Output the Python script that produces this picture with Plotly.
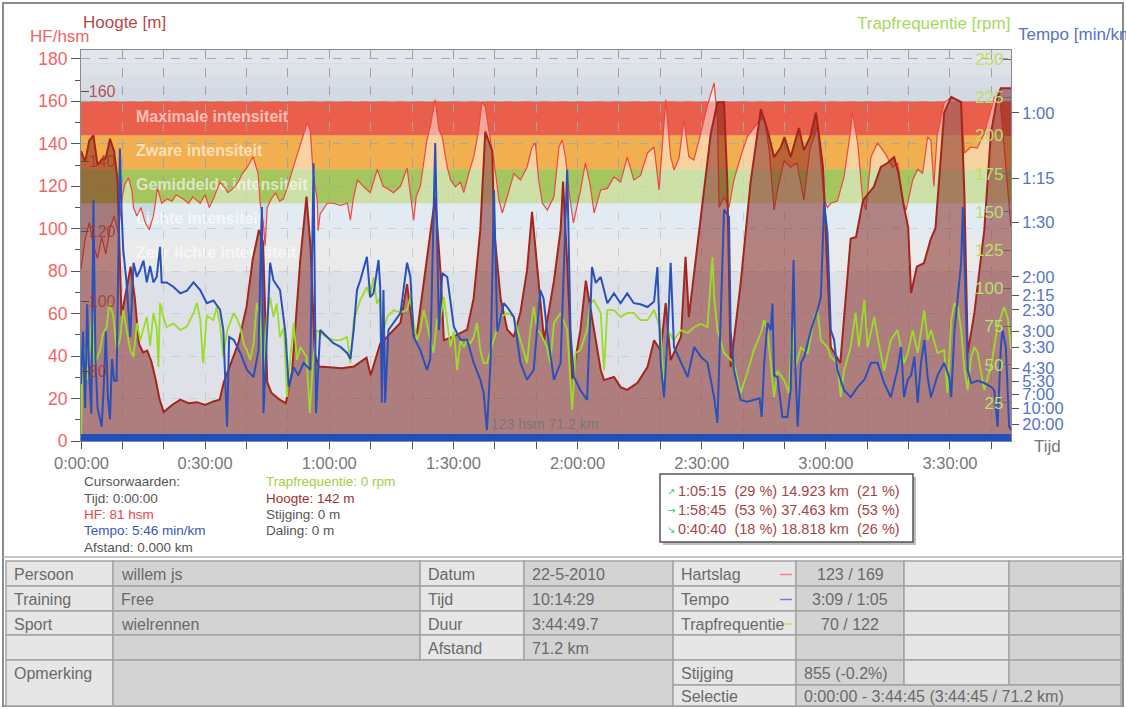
import plotly.graph_objects as go

# ---------------- data (time in minutes) ----------------
hf_points = [(0,81),(1,95),(2,103),(3,92),(4,86),(5,96),(6,88),(7,100),(8,106),(9,98),(10,115),(10.6,121),(11.5,124),(12.3,118),(12.7,110),(13.5,106),(14.5,110),(15.5,103),(16.5,99.5),(17.5,106),(18.5,119),(19.5,112),(20.8,114),(22,113),(23,116),(24.7,114),(26,112),(27,115),(28.8,112),(30,116),(31,110),(32,114),(33.6,122),(34.5,120),(35.5,117),(36.8,119),(38,122),(39,126),(40.2,129),(41.6,134),(42.8,126),(43.3,112),(44,104),(44.5,92),(45,110),(46,114),(47,117),(48,113),(48.9,114),(49.8,119),(51.3,129),(53,140),(54.7,150),(55.4,146.5),(56.1,126),(57.1,113.6),(57.3,99),(57.8,107),(59.5,112),(61,112),(62.7,111),(64.4,112),(65.1,104),(65.8,114),(66.8,123),(68.2,120),(69.9,117),(71.6,128),(72.3,124),(73,120),(74,119),(75.5,117),(77.2,120),(78.8,128.6),(79.5,118),(80.4,104),(81,115),(82,120),(83.6,141.8),(84.4,148),(85.6,160.7),(86.5,146.5),(87.3,143.3),(88.5,129),(89.3,123),(90.5,119.7),(91.7,122),(92.5,117),(93.7,126),(94.9,133.8),(96.1,146.5),(96.9,159.7),(97.7,157.4),(99,141.8),(100.2,126),(101,113.6),(101.8,107.4),(103,115),(104.6,126),(106.2,123),(107.8,129),(109,138.5),(109.8,140.4),(110.6,123),(111.5,112),(112.7,108.8),(114.3,115),(115.5,138.5),(116.3,141.8),(117.1,133.8),(117.9,118),(119,102.7),(120.7,118),(121.9,131),(123.1,120),(124,107.4),(125.6,118.3),(127.2,119),(128.8,124.4),(130.4,122),(132,133.8),(133.6,123),(135.2,125),(136.9,135.7),(138.5,138.5),(139.7,118.3),(140.1,128),(141.3,160.7),(142.5,133.8),(143.3,127.7),(144.5,133),(145.7,151.3),(146.9,134),(148.1,132.4),(149.8,145),(151.3,157.4),(153,168.7),(153.8,151.3),(154.2,110),(155.4,115),(156.6,110),(157.8,123),(159.4,133.8),(161,143.3),(163.5,149.8),(165.1,152.7),(166.3,137),(167.5,108.8),(168.3,118),(169.9,132),(171.5,129),(173,131),(174.7,113.6),(176.2,138),(178,148),(179.6,113.6),(180.4,110),(181.2,112),(182.8,113),(184.4,124.4),(186,146.5),(186.4,155),(187.7,140.4),(188.9,113.6),(189.7,108.8),(190.9,133.8),(192.5,140.4),(194.5,135),(196.1,129),(197.4,131),(198.6,113.6),(199.4,108.8),(201,123),(202.2,128),(203.4,126),(204.6,143.3),(205.4,141.8),(206.1,120),(206.9,144),(208.6,159.3),(210.3,162),(212.6,160),(213.5,135.7),(215,138.5),(216.6,138),(218.3,145),(219.9,156),(220.7,162),(222,163),(223,140),(224,115),(224.75,101)]

elev_points = [(0,143),(1,140),(2,146),(3,147.5),(4,139),(5,140.5),(6,141),(7,146.5),(8,143),(8.8,135),(9.8,96),(11,104),(12,110),(13,101),(14,88),(15,85.5),(16,86),(17,83),(18,78),(19,72),(20,68.5),(21,69.5),(22,70.5),(24,72),(26,71),(28,71.3),(30,70.5),(32,71.5),(33.5,72),(34.5,77),(36,81.5),(38,88),(40,98.5),(41.5,112),(43,120.5),(44,117),(45,77),(46,74),(48,72),(49.5,71),(51,80),(52,97),(53,112),(54.5,130),(55.5,115),(56.5,85),(57.5,81.5),(60,81.3),(63,81),(66,81.5),(69,84),(70,79),(72.3,88),(74,90),(77.2,94),(78.8,105),(80.4,90),(81.2,91),(84.4,120.5),(85.6,130),(86.9,108),(87.7,89),(90,90),(93.3,92),(94.9,101),(95.7,111),(96.5,120.5),(97.7,148.6),(99.4,143),(99.8,121),(101.4,101),(103,92),(104.6,90),(106.2,97),(107.8,109),(109,125.7),(110.3,110),(111.9,89),(114.3,106),(115.9,120.5),(116.5,134.3),(117.5,111),(118.7,78),(120.7,92),(122,106),(124,92),(125.6,80.5),(126.4,77.6),(128.8,78.5),(130.4,75.6),(132,74.8),(134.5,76.8),(136.9,81.3),(138.5,89),(140.1,86),(141.3,99.6),(142.5,83.3),(145,90),(146.1,112.8),(146.9,95.6),(149.8,124),(152.2,148),(153.8,157),(155.4,157),(156.2,134),(157,81.3),(159.4,105),(161.8,134),(164.3,155),(165.9,149),(167.5,141.3),(169.1,144),(170,147),(171.5,141.3),(173.5,149.6),(174.7,143.3),(176.2,147),(177.6,154),(178.3,148),(179.3,138.5),(180,119.6),(181.2,87),(183.5,82.5),(186,118),(187.3,118.5),(189,129),(191.6,132.8),(193.3,138.5),(194.9,139.6),(196.5,141.3),(197.5,137),(198.9,127),(199.9,121.3),(200.6,102.5),(202,110),(203.7,111),(205.4,118),(206.5,121),(208.6,154),(210.3,158.5),(212.7,157),(213.5,130),(214.3,85.3),(215.9,96.8),(218.3,120.5),(219.9,148.2),(221.5,158.5),(222.3,161),(224.75,161)]

speed_points = [(0,10.4),(0.5,20),(1,6),(1.5,25),(2,12),(2.5,5),(3,44),(3.5,15),(4,6),(5,2.6),(5.5,10),(6,20),(6.5,8),(7,4),(7.5,15),(8,11),(8.6,11),(9.4,53.5),(9.8,42),(10.2,35),(11,29),(11.9,19),(12.7,32.6),(13.5,30),(14.3,31.3),(15.1,33),(15.9,29),(16.7,32),(17.5,29),(18.3,30),(19.1,35.5),(19.5,29),(20.7,29),(22.3,28.2),(24,27),(25.6,27.5),(27.2,29),(28.8,27.6),(30.4,25.2),(32,25.7),(33.6,24),(34.4,20.3),(35.3,2.6),(35.8,19),(36.9,18.5),(38.5,16.1),(40.1,13),(41.7,11.7),(42.9,16.6),(43.7,42.8),(44.1,5.1),(44.9,20.3),(45.7,32.6),(46.5,29.4),(48.1,27.6),(49.4,19.8),(50.2,9.9),(51.4,13.5),(52.5,12),(53.8,14.3),(55.4,13),(56.2,50.8),(56.8,5.1),(57.8,20.3),(59.4,19),(61,17.9),(62.7,17.2),(64.3,16.1),(65.1,15),(65.9,20.3),(66.7,27.6),(67.5,29.4),(69.1,33.7),(69.9,26.3),(70.7,27),(71.9,33.1),(72.3,28.2),(72.7,7),(73.1,27.6),(73.5,7),(74.3,20.3),(75.6,21.6),(77.2,23.4),(78.8,32.6),(79.6,30),(80.4,19),(82,16.6),(83.6,13),(84.4,15),(85.6,54.5),(86.5,20.3),(87.3,30.7),(88.5,30),(90.1,20.9),(91.7,18.5),(93.3,18.5),(94.9,14.3),(96.5,11.2),(97.3,8.8),(98.1,2),(99,15),(99.8,45.9),(100.6,20),(102.2,25.2),(103,24.5),(104.6,22.7),(106.2,14.3),(107.8,11.2),(109.4,13),(111,27.6),(111.8,26),(112.6,20.3),(114.3,11.2),(115.9,14.3),(117.5,49.6),(118.3,20),(119.1,11.7),(120.7,9.3),(122.3,7.5),(123.5,31.8),(124.4,28.9),(125.6,30),(127.2,25.2),(128.8,27),(130.4,25.2),(132,27),(133.6,25.2),(135.2,25),(136.9,24.5),(138.5,25.5),(139.3,31.8),(140.1,14.3),(140.9,8),(141.8,20),(142.5,32.6),(143.3,17.2),(145,14.3),(146.6,11.7),(148.2,17.2),(149.8,15.4),(151.4,14.3),(153,8),(153.8,3.3),(155.4,42.3),(156.6,41),(157,20),(157.8,13),(159.4,7.5),(161,7.2),(162.6,7.5),(164,7.8),(164.5,4.4),(165.1,14.3),(165.9,21.6),(166.7,20.3),(167.1,25.2),(167.5,12),(168.3,11.7),(169.5,4.4),(170.7,4.4),(171.5,9.3),(172.2,33.1),(172.6,14.3),(173.2,2.6),(174,14.3),(174.8,15.4),(176.4,20.3),(178,24),(178.8,26.3),(179.6,43.5),(180.4,38),(181.2,20.3),(182,18.5),(182.8,13),(184.4,9.3),(186,8),(187.7,9.9),(189.3,11.2),(190.9,14.3),(192.5,14.3),(194.1,10.6),(195.7,8),(197.3,13),(198.2,17.2),(198.9,8),(199.8,11.2),(200.6,12),(201.4,15.4),(202.2,7),(203,14.3),(203.8,18.5),(204.6,11.7),(205.4,8),(207,12),(208.6,14.3),(209.8,11.7),(210.3,8),(211.1,20.3),(211.9,26.3),(212.7,32.6),(213.1,42.8),(213.9,20.3),(214.3,13),(215.1,10.6),(216.7,11),(218.3,10.6),(219.9,9.9),(220.7,9.3),(221.5,2.6),(222.3,17.2),(222.7,20.3),(223.5,17.2),(224.3,2.6),(224.75,2)]

cad_points = [(0,0),(0.3,45),(1,60),(1.5,40),(2,55),(2.7,84),(3.3,50),(4.6,59.5),(5.3,70),(6.2,74.6),(6.8,90),(7.8,82),(8.6,60),(9.4,66),(10.2,85.7),(11,72.6),(11.9,59.5),(12.7,55),(13.5,77.2),(14.3,66),(15.1,74),(15.9,81.2),(16.7,62),(17.5,83.8),(18.3,74),(18.7,48.4),(19.1,90.3),(19.9,81.2),(20.7,74.6),(22.3,77),(24,72.6),(25.6,75),(27.2,83.8),(28,90.3),(28.8,80),(29.5,51),(30.4,82),(32,79.1),(32.8,87.7),(33.6,76),(34.4,55),(35.3,72),(36,77.2),(36.9,83.8),(37.7,80),(38.5,74.6),(39.3,64),(40.1,59.5),(40.9,53),(41.7,64),(42.5,90.3),(43.3,81),(44.1,38),(44.9,81),(45.7,94.2),(46.5,81.2),(47.3,90),(48.1,68),(49,74),(49.8,28.8),(50.6,55),(51.4,77.2),(52.2,53),(53,61.5),(54.5,55),(55.3,18.3),(56,50),(57,72.6),(57.8,70.7),(59.4,68),(61,66),(62.7,66),(64.3,68),(65.1,51),(65.9,79.1),(67.5,92.3),(69.1,100.8),(69.9,94),(70.7,107.3),(71.5,90),(72.3,94.2),(72.7,68),(74,81.2),(75.6,85.7),(77.2,84),(78.8,85.7),(79.6,94.2),(80.4,77.2),(81.2,66),(82,72.6),(82.8,85.7),(83.6,77),(84.4,66),(85.2,57.6),(86,79),(86.9,81.2),(87.7,94.2),(88.5,79.1),(89.3,61.5),(90.1,72),(90.9,46.4),(91.7,66),(92.5,61.5),(93.3,66),(94.1,64),(94.9,68),(95.7,77.2),(96.5,59.5),(97.3,51),(98.1,51),(99.8,66),(101.4,81.2),(103,83.8),(104.6,81.2),(106.2,66),(107.8,51),(108.6,72.6),(109.4,87.7),(110.3,72.6),(111,70.7),(112.6,61.5),(113.4,51),(114.3,77.2),(115.9,83.8),(117.5,72.6),(118.7,20.3),(119.5,57.6),(120.7,59.5),(122.3,72.6),(123.1,90.3),(123.9,92.3),(125.6,83.8),(126.4,46.4),(127.2,85.7),(128.8,85.7),(130.4,81.2),(132,83.8),(133.6,83.8),(135.2,79.1),(136.9,79.1),(138.5,85.7),(140.1,72.6),(140.9,33.3),(141.8,72.6),(143.3,66),(145,72.6),(146.6,70.7),(148.2,74.6),(149.8,76.6),(151.4,74.6),(152.6,120.4),(153,94.2),(153.8,72.6),(155.4,57.6),(157.8,51),(159.4,31.4),(161,44.5),(162.6,59.5),(164.3,70.7),(165.1,79.1),(165.9,72.6),(166.7,51),(167.5,28.8),(168.3,46),(169.9,39.9),(171.1,31.4),(171.9,79.1),(172.6,48),(174,61.5),(175.6,57),(177.2,81.2),(178,85.7),(178.8,66),(180.4,61.5),(181.2,55),(182.8,51),(183.6,28.8),(184.4,46),(186,61.5),(187.2,83.8),(188,61.5),(189.3,92.3),(190.1,61.5),(191.7,81.2),(192.5,68),(194.1,46),(195.7,66),(197.3,72.6),(198.9,51),(199.8,57.6),(201,72.6),(202.2,57.6),(203.8,85.7),(204.6,66),(205.4,72.6),(207,57.6),(208.6,59.5),(209.4,31.4),(210.3,79.1),(211.1,90.3),(211.9,88),(212.7,72.6),(213.5,46.4),(214.3,33.3),(215.1,55),(215.9,61.5),(216.7,57.6),(218.3,33.3),(220,50),(221.5,75),(223.1,87.7),(224,80),(224.75,60)]

time_ticks = [0, 30, 60, 90, 120, 150, 180, 210]
time_labels = ["0:00:00", "0:30:00", "1:00:00", "1:30:00", "2:00:00", "2:30:00", "3:00:00", "3:30:00"]
tempo_labels = ["1:00", "1:15", "1:30", "2:00", "2:15", "2:30", "3:00", "3:30", "4:30", "5:30", "7:00", "10:00", "20:00"]
cad_ticks = [25, 50, 75, 100, 125, 150, 175, 200, 225, 250]
elev_ticks = [80, 100, 120, 140, 160]

zone_edges = [80, 96, 112, 128, 144, 160]
zone_names = ["Zeer lichte intensiteit", "Lichte intensiteit", "Gemiddelde intensiteit", "Zware intensiteit", "Maximale intensiteit"]
zone_colors = ["#D9D9D9", "#C8DBE5", "#A4C65C", "#F2AF50", "#EA5F4B"]

T_END = 224.75

# ---------------- geometry helpers (pixel -> paper) ----------------
W, H = 1126, 709
PL, PR, PT, PB = 81, 1011, 50, 441
def fx(x): return (x - PL) / (PR - PL)
def fy(y): return (PB - y) / (PB - PT)

FONT = "Liberation Sans, Arial, sans-serif"

def split(pts):
    return [p[0] for p in pts], [p[1] for p in pts]

hf_t, hf_v = split(hf_points)
el_t, el_v = split(elev_points)
sp_t, sp_v = split(speed_points)
cd_t, cd_v = split(cad_points)

fig = go.Figure()

# zone labels (drawn beneath the series)
fig.add_trace(go.Scatter(
    x=[13.3] * 5, y=[(zone_edges[i] + zone_edges[i + 1]) / 2 for i in range(5)],
    text=zone_names, mode="text", textposition="middle right",
    textfont=dict(family=FONT, size=16, color="rgba(255,255,255,0.62)", weight="bold"),
    hoverinfo="skip", yaxis="y"))

# HF area (lightening overlay)
fig.add_trace(go.Scatter(x=hf_t, y=hf_v, mode="lines", line=dict(width=0),
                         fill="tozeroy", fillcolor="rgba(255,255,255,0.45)", yaxis="y", hoverinfo="skip"))
# elevation
fig.add_trace(go.Scatter(x=el_t, y=el_v, mode="lines", line=dict(color="#A3261C", width=2),
                         fill="tozeroy", fillcolor="rgba(125,28,22,0.5)", yaxis="y2"))
# speed
fig.add_trace(go.Scatter(x=sp_t, y=sp_v, mode="lines", line=dict(color="#2B50BA", width=2), yaxis="y4"))
# cadence
fig.add_trace(go.Scatter(x=cd_t, y=cd_v, mode="lines", line=dict(color="#9CDC28", width=1.8), yaxis="y3"))
# HF line
fig.add_trace(go.Scatter(x=hf_t, y=hf_v, mode="lines", line=dict(color="#EC4840", width=1.2), yaxis="y"))

shapes = []
# top gradient above 160
grad = [(160, 166, "#D3D9E2"), (166, 172, "#D8DDE5"), (172, 178, "#DDE1E8"), (178, 185, "#E2E5EB")]
for y0, y1, c in grad:
    shapes.append(dict(type="rect", xref="paper", yref="y", x0=0, x1=1, y0=y0, y1=y1,
                       fillcolor=c, line=dict(width=0), layer="below"))
for i in range(5):
    shapes.append(dict(type="rect", xref="paper", yref="y", x0=0, x1=1,
                       y0=zone_edges[i], y1=zone_edges[i + 1],
                       fillcolor=zone_colors[i], line=dict(width=0), layer="below"))
# selection bar
shapes.append(dict(type="rect", xref="x", yref="paper", x0=0, x1=T_END, y0=0, y1=7 / 391,
                   fillcolor="#2050C0", line=dict(width=0), layer="above"))

annotations = []
def ann(text, x, y, color, size, anchor="left", yanchor="middle", family=FONT):
    annotations.append(dict(text=text, x=fx(x), y=fy(y), xref="paper", yref="paper",
                            xanchor=anchor, yanchor=yanchor, showarrow=False,
                            font=dict(family=family, size=size, color=color)))

# axis titles
ann("HF/hsm", 28, 36, "#EE6666", 17)
ann("Hoogte [m]", 81, 22, "#B54848", 17)
ann("Trapfrequentie [rpm]", 855, 23, "#A8D860", 17)
ann("Tempo [min/km]", 1016, 35, "#5574C4", 17)
ann("Tijd", 1032, 446, "#777777", 17)
ann("123 hsm 71.2 km", 489, 424, "#777777", 14)
# first time label (plotly hides it next to the inside elevation labels)
ann(time_labels[0], 81, 463, "#777777", 16.5, anchor="center")

# cursor values
ann("Cursorwaarden:", 82, 482, "#555555", 13.5)
ann("Tijd: 0:00:00", 82, 498, "#555555", 13.5)
ann("HF: 81 hsm", 82, 514, "#E84848", 13.5)
ann("Tempo: 5:46 min/km", 82, 530, "#3858B8", 13.5)
ann("Afstand: 0.000 km", 82, 547, "#555555", 13.5)
ann("Trapfrequentie: 0 rpm", 264, 482, "#A0D040", 13.5)
ann("Hoogte: 142 m", 264, 498, "#A03030", 13.5)
ann("Stijging: 0 m", 264, 514, "#555555", 13.5)
ann("Daling: 0 m", 264, 530, "#555555", 13.5)

# stats box
shapes.append(dict(type="rect", xref="paper", yref="paper", x0=fx(663), x1=fx(916), y0=fy(545), y1=fy(477),
                   fillcolor="#BDBDBD", line=dict(width=0), layer="above"))
shapes.append(dict(type="rect", xref="paper", yref="paper", x0=fx(660), x1=fx(913), y0=fy(542), y1=fy(474),
                   fillcolor="white", line=dict(color="#555555", width=1.5), layer="above"))
nb = "\u00a0"
stats = [("\u2197", "1:05:15" + nb * 2 + "(29 %) 14.923 km" + nb * 2 + "(21 %)", 491),
         ("\u2192", "1:58:45" + nb * 2 + "(53 %) 37.463 km" + nb * 2 + "(53 %)", 510),
         ("\u2198", "0:40:40" + nb * 2 + "(18 %) 18.818 km" + nb * 2 + "(26 %)", 529)]
for arrow, txt, yy in stats:
    ann(arrow, 665, yy, "#33CC77", 10, family="DejaVu Sans")
    ann(txt, 676, yy, "#A84444", 14.5)

# outer frame and separator
shapes.append(dict(type="rect", xref="paper", yref="paper", x0=fx(3), x1=fx(1123), y0=fy(706), y1=fy(3),
                   fillcolor="rgba(0,0,0,0)", line=dict(color="#8C8C8C", width=2), layer="above"))
shapes.append(dict(type="line", xref="paper", yref="paper", x0=fx(3), x1=fx(1123), y0=fy(557), y1=fy(557),
                   line=dict(color="#B4B4B4", width=1.5), layer="above"))

# ---------------- info table ----------------
R = [561, 586, 611, 635, 660, 685, 706]
C = [6, 113, 420, 524, 673, 796, 904, 1009, 1121]
LIGHT, DARK, BORDER = "#E6E6E6", "#D3D3D3", "#A4A4A4"
cells = []
for i in range(4):
    for j in range(8):
        cells.append((C[j], C[j + 1], R[i], R[i + 1], LIGHT if j % 2 == 0 else DARK))
cells += [(C[0], C[1], R[4], R[6], LIGHT), (C[1], C[4], R[4], R[6], DARK),
          (C[4], C[5], R[4], R[5], LIGHT), (C[5], C[6], R[4], R[5], DARK),
          (C[6], C[7], R[4], R[5], LIGHT), (C[7], C[8], R[4], R[5], DARK),
          (C[4], C[5], R[5], R[6], LIGHT), (C[5], C[8], R[5], R[6], DARK)]
for x0, x1, y0, y1, c in cells:
    shapes.append(dict(type="rect", xref="paper", yref="paper", x0=fx(x0), x1=fx(x1), y0=fy(y1), y1=fy(y0),
                       fillcolor=c, line=dict(color=BORDER, width=1.5), layer="above"))

table_left = [
    ("Persoon", 0, 0), ("willem js", 1, 0), ("Datum", 2, 0), ("22-5-2010", 3, 0), ("Hartslag", 4, 0),
    ("Training", 0, 1), ("Free", 1, 1), ("Tijd", 2, 1), ("10:14:29", 3, 1), ("Tempo", 4, 1),
    ("Sport", 0, 2), ("wielrennen", 1, 2), ("Duur", 2, 2), ("3:44:49.7", 3, 2), ("Trapfrequentie", 4, 2),
    ("Afstand", 2, 3), ("71.2 km", 3, 3),
    ("Stijging", 4, 4), ("855 (-0.2%)", 5, 4),
    ("Selectie", 4, 5), ("0:00:00 - 3:44:45 (3:44:45 / 71.2 km)", 5, 5),
]
for txt, j, i in table_left:
    ann(txt, C[j] + 6, (R[i] + R[i + 1]) / 2 + 1, "#6A6A6A", 16)
ann("Opmerking", C[0] + 6, 673, "#6A6A6A", 16)
for txt, i in [("123 / 169", 0), ("3:09 / 1:05", 1), ("70 / 122", 2)]:
    ann(txt, (C[5] + C[6]) / 2, (R[i] + R[i + 1]) / 2 + 1, "#6A6A6A", 16, anchor="center")
for i, col in [(0, "#F08484"), (1, "#6A86CC"), (2, "#B4E070")]:
    yy = (R[i] + R[i + 1]) / 2 + 1
    shapes.append(dict(type="line", xref="paper", yref="paper", x0=fx(780), x1=fx(792), y0=fy(yy), y1=fy(yy),
                       line=dict(color=col, width=1.5), layer="above"))

tempo_speeds = []
for lab in tempo_labels:
    mm, ss = lab.split(":")
    tempo_speeds.append(60.0 / (int(mm) + int(ss) / 60.0))

minor_x = [m for m in range(10, 225, 10) if m % 30 != 0]
x_ticktext = [""] + time_labels[1:]

fig.update_layout(
    width=W, height=H, margin=dict(l=PL, r=W - PR, t=PT, b=H - PB, pad=0),
    paper_bgcolor="white", plot_bgcolor="#C3C8D6", showlegend=False,
    font=dict(family=FONT),
    shapes=shapes, annotations=annotations,
    xaxis=dict(range=[0, T_END], tickmode="array", tickvals=time_ticks, ticktext=x_ticktext,
               ticks="outside", ticklen=7, tickcolor="#555555", tickwidth=1.2,
               tickfont=dict(size=16.5, color="#777777"),
               showgrid=True, gridcolor="#A2A2A2", griddash="dash", gridwidth=1,
               minor=dict(tickmode="array", tickvals=minor_x, ticks="outside", ticklen=7, tickcolor="#555555",
                          showgrid=True, gridcolor="#A2A2A2", griddash="dash"),
               showline=True, linecolor="#8A8A8A", mirror=True, zeroline=False, fixedrange=True),
    yaxis=dict(range=[0, 184.2], tick0=0, dtick=20, ticks="outside", ticklen=9, tickcolor="#555555",
               tickfont=dict(size=17.5, color="#EE6666"),
               showgrid=True, gridcolor="#A8A8A8", griddash="dash",
               minor=dict(dtick=10, ticks="outside", ticklen=5, tickcolor="#555555", showgrid=False),
               showline=True, linecolor="#8A8A8A", mirror=True, zeroline=False),
    yaxis2=dict(range=[60.2, 171.9], overlaying="y", anchor="x", side="left",
                tickmode="array", tickvals=elev_ticks, ticks="inside", ticklen=8, tickcolor="#7A3A36",
                ticklabelposition="inside", ticklabeloverflow="allow",
                tickfont=dict(size=16, color="rgba(165,50,45,0.8)"),
                showgrid=False, zeroline=False, showline=False),
    yaxis3=dict(range=[0, 255.9], overlaying="y", anchor="x", side="right",
                tickmode="array", tickvals=cad_ticks, ticks="inside", ticklen=8, tickcolor="#666666",
                ticklabelposition="inside", ticklabeloverflow="allow",
                tickfont=dict(size=17, color="#BCDF6A"),
                showgrid=False, zeroline=False, showline=False),
    yaxis4=dict(range=[0, 71.5], overlaying="y", anchor="x", side="right",
                tickmode="array", tickvals=tempo_speeds, ticktext=tempo_labels,
                ticks="outside", ticklen=7, tickcolor="#555555",
                tickfont=dict(size=16.5, color="#5574C4"),
                showgrid=False, zeroline=False, showline=False),
)

fig.write_html("out.html", config={"displayModeBar": False},
               post_script="document.body.style.margin='0';document.body.style.overflow='hidden';")
